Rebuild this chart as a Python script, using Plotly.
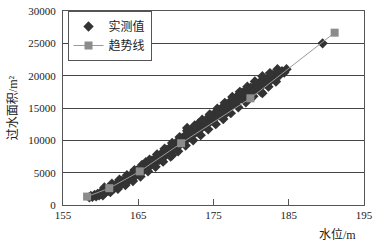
import plotly.graph_objects as go

# measured points (water level m, flow area m^2)
meas_x = [158.5,158.7,158.9,159.2,159.4,159.6,159.8,160.0,160.2,160.4,160.6,160.8,161.0,161.2,161.4,161.6,161.8,
          162.0,162.2,162.4,162.6,162.8,163.0,163.2,163.4,163.6,163.8,164.0,164.2,164.4,164.6,164.8,165.0,165.2,
          165.4,165.6,165.8,166.0,166.2,166.4,166.6,166.8,167.0,167.2,167.4,167.6,167.8,168.0,168.2,168.4,168.6,
          168.8,169.0,169.2,169.4,169.6,169.8,170.0,170.2,170.4,170.6,170.8,171.0,171.2,171.4,171.6,171.8,172.0,
          172.2,172.4,172.6,172.8,173.0,173.2,173.4,173.6,173.8,174.0,174.2,174.4,174.6,174.8,175.0,175.2,175.4,
          175.6,175.8,176.0,176.2,176.4,176.6,176.8,177.0,177.2,177.4,177.6,177.8,178.0,178.2,178.4,178.6,178.8,
          179.0,179.3,179.6,179.9,180.2,180.5,180.8,181.1,181.4,181.7,182.0,182.3,182.6,182.9,183.2,183.5,183.8,
          184.1,184.4,184.7,169.5,171.5,176.5,181.5,166.0,173.0,
          160.5,161.5,162.5,163.5,164.5,165.5,166.5,167.5,168.5,169.5,170.5,171.5,172.5,173.5,174.5,175.5,176.5,
          177.5,178.5,179.5,180.5,181.5,182.5,183.5,
          160.3,161.3,162.3,163.3,164.3,165.3,166.3,167.3,168.3,169.3,170.3,171.3,172.3,173.3,174.3,175.3,176.3,
          177.3,178.3,179.3,180.3,181.3,182.3,183.3,
          189.5]
meas_y = [1200,1400,1250,1550,1350,1700,1500,1950,1700,2100,1900,2400,2200,2600,2350,2850,2600,
          3150,2850,3400,3100,3700,3400,3950,3650,4250,3900,4600,4200,4900,4500,5300,4850,5600,
          5150,5900,5450,6200,5750,6500,6100,6850,6350,7150,6700,7500,7000,7850,7300,8200,7650,
          8500,8000,8850,8300,9200,8700,9600,9000,9900,9400,10300,9750,10700,10100,11000,10500,11400,
          10850,11700,11200,12100,11550,12450,11900,12800,12250,13150,12600,13500,12950,13850,13300,14200,13650,
          14550,14000,14900,14350,15250,14700,15600,15050,15950,15400,16300,15750,16650,16100,17000,16450,17350,
          16800,17700,17200,18100,17600,18500,18000,18900,18400,19300,18800,19700,19250,20100,19700,20400,20100,
          20700,20500,21000,7700,11900,14000,17300,6600,12600,
          2700,3300,3900,4600,5400,6200,7000,7800,8700,9600,10500,11500,12300,13200,14000,14900,15800,
          16700,17500,18300,19100,19900,20400,21000,
          1500,2000,2500,3100,3700,4400,5200,5900,6700,7500,8300,9200,10000,10800,11700,12500,13300,
          14200,15100,15900,16800,17500,18300,19100,
          25000]

# trend line points
trend_x = [158.2, 161.15, 165.2, 170.7, 179.9, 191.1]
trend_y = [1300, 2600, 5200, 9550, 16500, 26650]

x_ticks = [155, 165, 175, 185, 195]
y_ticks = [0, 5000, 10000, 15000, 20000, 25000, 30000]

font_fam = "Liberation Serif, Noto Sans CJK SC, serif"

fig = go.Figure()
fig.add_trace(go.Scatter(
    x=meas_x, y=meas_y, mode="markers", name="实测值",
    marker=dict(symbol="diamond", size=8, color="#333333", line=dict(width=0)),
))
fig.add_trace(go.Scatter(
    x=trend_x, y=trend_y, mode="lines+markers", name="趋势线",
    line=dict(color="#9a9a9a", width=1),
    marker=dict(symbol="square", size=8, color="#8c8c8c"),
))

fig.update_layout(
    width=378, height=244,
    margin=dict(l=63, r=14, t=5, b=39),
    paper_bgcolor="white", plot_bgcolor="white",
    font=dict(family=font_fam, size=11, color="#222222"),
    showlegend=True,
    legend=dict(
        x=0.015, y=1.0, xanchor="left", yanchor="top",
        bgcolor="white", bordercolor="#555555", borderwidth=1,
        font=dict(family=font_fam, size=12, color="#222222"),
        tracegroupgap=0, itemwidth=30,
    ),
    xaxis=dict(
        range=[155, 195], tickvals=x_ticks, ticktext=[str(v) for v in x_ticks],
        showgrid=False, zeroline=False,
        showline=True, linecolor="#555555", linewidth=1, mirror=True,
        ticks="inside", ticklen=6, tickcolor="#555555",
        tickfont=dict(family=font_fam, size=11, color="#222222"),
    ),
    yaxis=dict(
        range=[0, 30000.5], tickvals=y_ticks, ticktext=[str(v) for v in y_ticks],
        showgrid=True, gridcolor="#444444", gridwidth=1, zeroline=False,
        showline=True, linecolor="#555555", linewidth=1, mirror=True,
        ticks="", ticklabelstandoff=4, ticklabeloverflow="allow",
        tickfont=dict(family=font_fam, size=11, color="#222222"),
        title=dict(text="过水面积/m²", standoff=8,
                   font=dict(family=font_fam, size=12, color="#222222")),
    ),
)

fig.add_annotation(
    text="水位/m", xref="paper", yref="paper", x=0.98, y=0, xanchor="right", yanchor="top",
    yshift=-20, showarrow=False,
    font=dict(family=font_fam, size=12, color="#222222"),
)

fig.write_html("out.html")
